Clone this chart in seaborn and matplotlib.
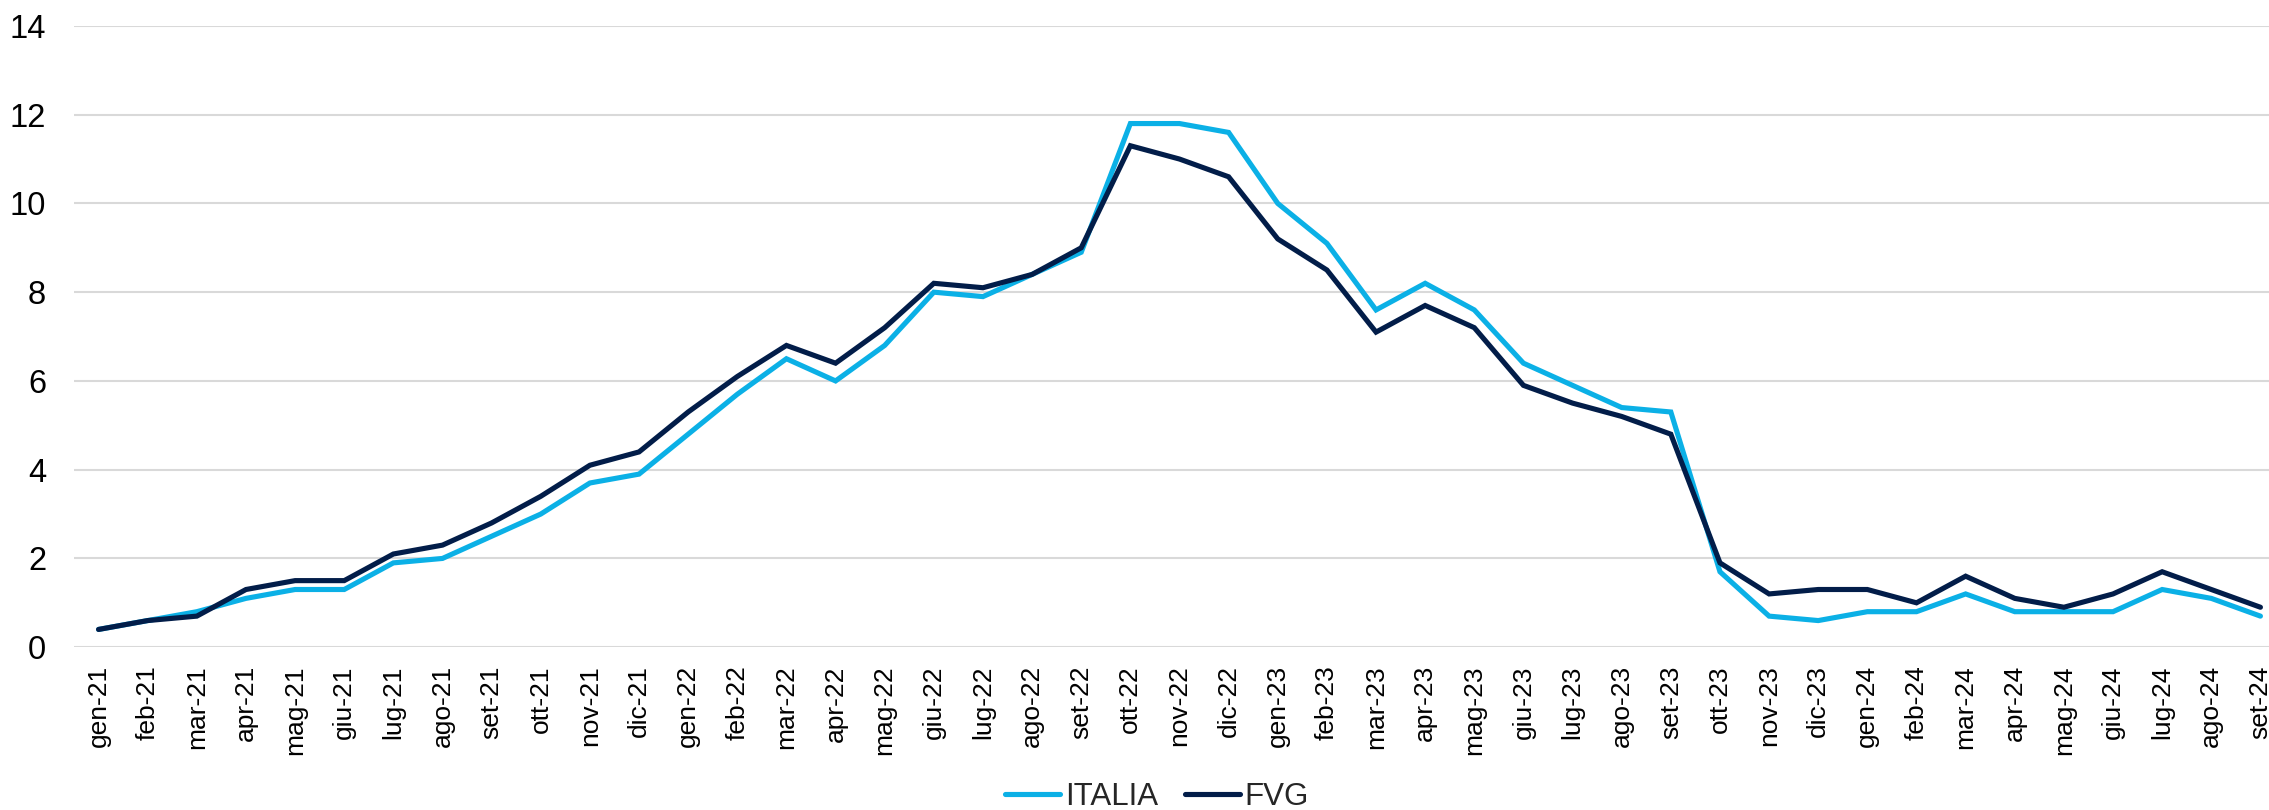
import matplotlib
matplotlib.use("Agg")
import matplotlib.pyplot as plt
from matplotlib.lines import Line2D
import seaborn as sns
import pandas as pd

months = ["gen", "feb", "mar", "apr", "mag", "giu", "lug", "ago", "set", "ott", "nov", "dic"]
categories = [f"{m}-{y}" for y in ["21", "22", "23"] for m in months] + [f"{m}-24" for m in months[:9]]

italia = [0.4, 0.6, 0.8, 1.1, 1.3, 1.3, 1.9, 2.0, 2.5, 3.0, 3.7, 3.9,
          4.8, 5.7, 6.5, 6.0, 6.8, 8.0, 7.9, 8.4, 8.9, 11.8, 11.8, 11.6,
          10.0, 9.1, 7.6, 8.2, 7.6, 6.4, 5.9, 5.4, 5.3, 1.7, 0.7, 0.6,
          0.8, 0.8, 1.2, 0.8, 0.8, 0.8, 1.3, 1.1, 0.7]
fvg = [0.4, 0.6, 0.7, 1.3, 1.5, 1.5, 2.1, 2.3, 2.8, 3.4, 4.1, 4.4,
       5.3, 6.1, 6.8, 6.4, 7.2, 8.2, 8.1, 8.4, 9.0, 11.3, 11.0, 10.6,
       9.2, 8.5, 7.1, 7.7, 7.2, 5.9, 5.5, 5.2, 4.8, 1.9, 1.2, 1.3,
       1.3, 1.0, 1.6, 1.1, 0.9, 1.2, 1.7, 1.3, 0.9]
series_names = ["ITALIA", "FVG"]
colors = ["#0BB0E6", "#021D49"]
y_ticks = [0, 2, 4, 6, 8, 10, 12, 14]

df = pd.DataFrame({
    "idx": list(range(len(categories))) * 2,
    "value": italia + fvg,
    "serie": [series_names[0]] * len(italia) + [series_names[1]] * len(fvg),
})

sns.set_theme(style="white")
plt.rcParams["font.family"] = ["Liberation Sans", "DejaVu Sans"]

fig = plt.figure(figsize=(22.69, 8.10), dpi=100)
ax = fig.add_axes([74 / 2269, 0.201, 2211 / 2269, 0.767])

sns.lineplot(data=df, x="idx", y="value", hue="serie", palette=colors,
             hue_order=series_names, linewidth=3.7, ax=ax, legend=False, sort=False)
for ln in ax.lines:
    ln.set_solid_capstyle("round")
    ln.set_solid_joinstyle("miter")

ax.set_xlim(-0.5, len(categories) - 0.5)
ax.set_ylim(0, 14)
ax.set_yticks(y_ticks)
ax.set_yticklabels([str(t) for t in y_ticks], fontsize=23.5)
ax.set_xticks(range(len(categories)))
ax.set_xticklabels(categories, rotation=90, fontsize=19)
ax.tick_params(axis="y", length=0, pad=20, colors="#000000")
ax.tick_params(axis="x", length=0, pad=13, colors="#000000")
ax.set_xlabel("")
ax.set_ylabel("")
for s in ax.spines.values():
    s.set_visible(False)
ax.yaxis.grid(True, color="#D9D9D9", linewidth=1.5)
ax.set_axisbelow(True)

handles = [Line2D([0], [0], color=c, linewidth=3.7, solid_capstyle="round") for c in colors]
fig.legend(handles, series_names, loc="center", bbox_to_anchor=(1157 / 2269, 1 - 797 / 810),
           ncol=2, frameon=False, fontsize=22.5, handlelength=1.75, handletextpad=0.16,
           columnspacing=0.87, borderaxespad=0, borderpad=0)

fig.savefig("out.png", dpi=100)
